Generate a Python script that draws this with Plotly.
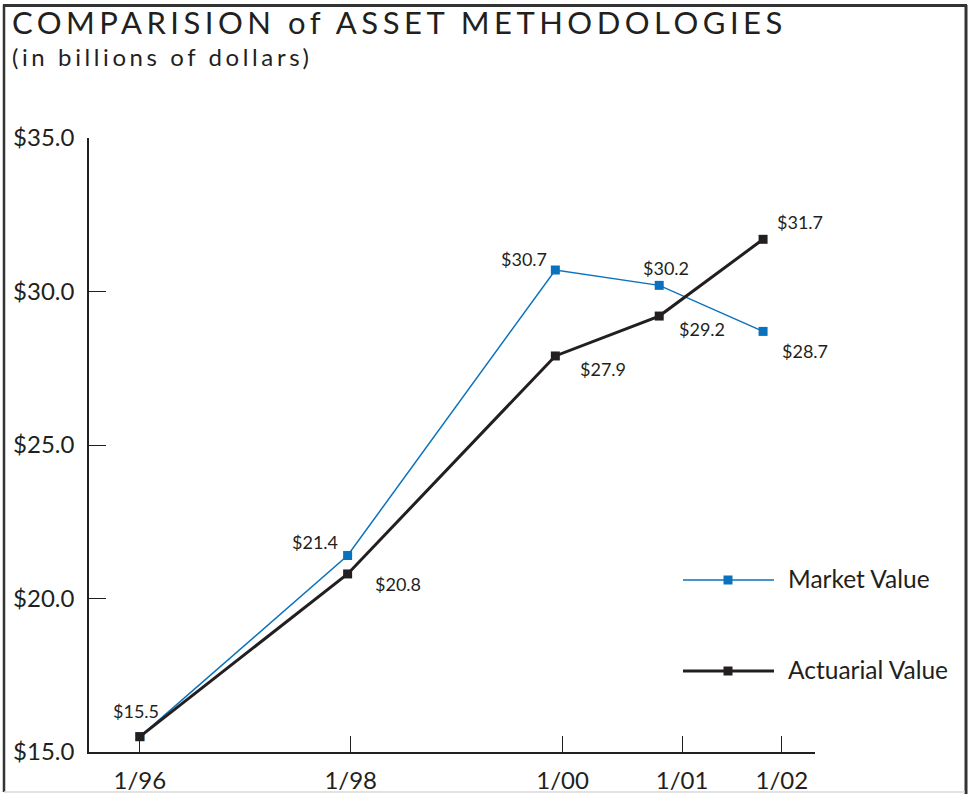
import plotly.graph_objects as go

# ---- data ----
years = [1996, 1998, 2000, 2001, 2002]
tick_labels = ["1/96", "1/98", "1/00", "1/01", "1/02"]
tick_positions = [1996.0, 1998.03, 2000.07, 2001.22, 2002.18]
market_value = [15.5, 21.4, 30.7, 30.2, 28.7]
actuarial_value = [15.5, 20.8, 27.9, 29.2, 31.7]
y_ticks = [15, 20, 25, 30, 35]
y_tick_labels = ["$15.0", "$20.0", "$25.0", "$30.0", "$35.0"]

# label pixel offsets (dx, dy) relative to points; None = no label
market_offsets = [(-4, 26), (-33, 14), (-31, 11), (7, 17), (42, -20)]
actuarial_offsets = [None, (50, -10), (48, -13), (43, -13), (37, 17)]

BLUE = "#0a72bd"
BLACK = "#231f20"
FONT = "Lato"

W, H = 969, 795
L, R, T, B = 89, 154, 138, 43
PW, PH = W - L - R, H - T - B


def px(x):
    return (x - L) / PW


def py(y):
    return (H - B - y) / PH


fig = go.Figure()
fig.add_trace(go.Scatter(
    x=years, y=market_value, mode="lines+markers", name="Market Value",
    line=dict(color=BLUE, width=1.5),
    marker=dict(symbol="square", size=9, color=BLUE),
))
fig.add_trace(go.Scatter(
    x=years, y=actuarial_value, mode="lines+markers", name="Actuarial Value",
    line=dict(color=BLACK, width=3),
    marker=dict(symbol="square", size=9, color=BLACK),
))

annotations = []
for series, offs in ((market_value, market_offsets), (actuarial_value, actuarial_offsets)):
    for x, v, o in zip(years, series, offs):
        if o is None:
            continue
        annotations.append(dict(
            x=x, y=v, xref="x", yref="y", text=f"${v:.1f}", showarrow=False,
            xshift=o[0], yshift=o[1], font=dict(family=FONT, size=18, color=BLACK),
        ))

# title & subtitle
annotations.append(dict(
    x=px(10), y=py(43), xref="paper", yref="paper", xanchor="left", yanchor="bottom",
    text='<span style="letter-spacing:4.5px">COMPARISION of ASSET METHODOLOGIES</span>',
    showarrow=False,
    font=dict(family=FONT, size=31, color=BLACK),
))
annotations.append(dict(
    x=px(10), y=py(73), xref="paper", yref="paper", xanchor="left", yanchor="bottom",
    text='<span style="letter-spacing:3.6px">(in billions of dollars)</span>',
    showarrow=False,
    font=dict(family=FONT, size=24, color=BLACK),
))

# custom legend
legend_items = [("Market Value", BLUE, 1.5, 580), ("Actuarial Value", BLACK, 3, 671)]
shapes = []
for name, col, w, yy in legend_items:
    shapes.append(dict(type="line", xref="paper", yref="paper",
                       x0=px(683), x1=px(774), y0=py(yy), y1=py(yy),
                       line=dict(color=col, width=w)))
    shapes.append(dict(type="rect", xref="paper", yref="paper",
                       x0=px(723.5), x1=px(732.5), y0=py(yy - 4.5), y1=py(yy + 4.5),
                       fillcolor=col, line=dict(width=0)))
    annotations.append(dict(
        x=px(786), y=py(yy - 2), xref="paper", yref="paper", xanchor="left", yanchor="middle",
        text=name, showarrow=False, font=dict(family=FONT, size=24.5, color=BLACK),
    ))

# outer frame
frame_col = "#333333"
shapes += [
    dict(type="line", xref="paper", yref="paper", x0=px(3), x1=px(967), y0=py(5.5), y1=py(5.5),
         line=dict(color=frame_col, width=3)),
    dict(type="line", xref="paper", yref="paper", x0=px(4), x1=px(4), y0=py(5), y1=py(792),
         line=dict(color=frame_col, width=2.5)),
    dict(type="line", xref="paper", yref="paper", x0=px(966), x1=px(966), y0=py(5), y1=py(794),
         line=dict(color=frame_col, width=3)),
    dict(type="line", xref="paper", yref="paper", x0=px(4), x1=px(965), y0=py(792), y1=py(792),
         line=dict(color="#d8d8d8", width=1.5)),
]

fig.update_layout(
    width=W, height=H, margin=dict(l=L, r=R, t=T, b=B, autoexpand=False),
    paper_bgcolor="white", plot_bgcolor="white", showlegend=False,
    annotations=annotations, shapes=shapes,
    xaxis=dict(
        range=[1995.51, 2002.50], tickvals=tick_positions, ticktext=tick_labels,
        ticks="inside", ticklen=16, tickwidth=1.3, tickcolor=BLACK, automargin=False,
        showline=True, linecolor=BLACK, linewidth=1.5, showgrid=False, zeroline=False,
        tickfont=dict(family=FONT, size=24, color=BLACK), ticklabelstandoff=6,
    ),
    yaxis=dict(
        range=[15, 35], tickvals=y_ticks, ticktext=y_tick_labels,
        ticks="inside", ticklen=17, tickwidth=1.3, tickcolor=BLACK, automargin=False,
        showline=True, linecolor=BLACK, linewidth=1.5, showgrid=False, zeroline=False,
        tickfont=dict(family=FONT, size=24, color=BLACK), ticklabelstandoff=8,
    ),
)

fig.write_html(
    "out.html",
    config={"displayModeBar": False},
    post_script=(
        "document.body.style.margin='0';document.body.style.overflow='hidden';"
        "document.documentElement.style.overflow='hidden';"
    ),
)
